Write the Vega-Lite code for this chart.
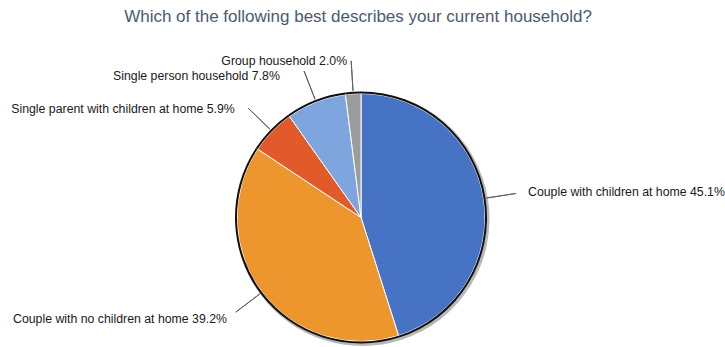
{
  "$schema": "https://vega.github.io/schema/vega-lite/v6.json",
  "width": 722,
  "height": 260,
  "autosize": "none",
  "padding": {"left": 0, "top": 87.5, "right": 3, "bottom": 0},
  "background": "white",
  "title": {
    "text": "Which of the following best describes your current household?",
    "font": "Liberation Sans",
    "fontSize": 17,
    "fontWeight": "normal",
    "color": "#4B5A6F",
    "anchor": "middle",
    "dx": -3,
    "offset": 17
  },
  "data": {
    "values": [
      {"category": "Couple with children at home", "value": 45.1, "order": 1, "label": "Couple with children at home 45.1%"},
      {"category": "Couple with no children at home", "value": 39.2, "order": 2, "label": "Couple with no children at home 39.2%"},
      {"category": "Single parent with children at home", "value": 5.9, "order": 3, "label": "Single parent with children at home 5.9%"},
      {"category": "Single person household", "value": 7.8, "order": 4, "label": "Single person household 7.8%"},
      {"category": "Group household", "value": 2.0, "order": 5, "label": "Group household 2.0%"}
    ]
  },
  "encoding": {
    "theta": {"field": "value", "type": "quantitative", "stack": true},
    "order": {"field": "order", "type": "quantitative"}
  },
  "layer": [
    {
      "mark": {"type": "arc", "outerRadius": 127, "innerRadius": 0, "fill": "#9a9a9a", "xOffset": 1.5, "yOffset": 1.5, "opacity": 0.7}
    },
    {
      "mark": {"type": "arc", "outerRadius": 124, "stroke": "white", "strokeWidth": 1},
      "encoding": {
        "color": {
          "field": "category",
          "type": "nominal",
          "scale": {
            "domain": ["Couple with children at home", "Couple with no children at home", "Single parent with children at home", "Single person household", "Group household"],
            "range": ["#4673C3", "#EE962E", "#E2592A", "#7EA5DD", "#9C9C9C"]
          },
          "legend": null
        }
      }
    },
    {
      "mark": {"type": "arc", "outerRadius": 126, "innerRadius": 124, "fill": "#111111"}
    },
    {
      "mark": {"type": "arc", "outerRadius": 157, "innerRadius": 127, "padAngle": 3, "fill": "transparent", "stroke": "#606060", "strokeWidth": 1}
    },
    {
      "mark": {"type": "text", "radius": 169, "align": "left", "baseline": "middle", "font": "Liberation Sans", "fontSize": 12.3, "color": "#1a1a1a"},
      "encoding": {"text": {"condition": {"test": "datum.category === 'Couple with children at home'", "field": "label"}, "value": ""}}
    },
    {
      "mark": {"type": "text", "radius": 168, "align": "right", "baseline": "middle", "font": "Liberation Sans", "fontSize": 12.3, "color": "#1a1a1a"},
      "encoding": {"text": {"condition": {"test": "datum.category === 'Couple with no children at home'", "field": "label"}, "value": ""}}
    },
    {
      "mark": {"type": "text", "radius": 166, "dx": -7, "dy": 7.5, "align": "right", "baseline": "middle", "font": "Liberation Sans", "fontSize": 12.3, "color": "#1a1a1a"},
      "encoding": {"text": {"condition": {"test": "datum.category === 'Single parent with children at home'", "field": "label"}, "value": ""}}
    },
    {
      "mark": {"type": "text", "radius": 155, "dx": -25, "dy": 2.5, "align": "right", "baseline": "middle", "font": "Liberation Sans", "fontSize": 12.3, "color": "#1a1a1a"},
      "encoding": {"text": {"condition": {"test": "datum.category === 'Single person household'", "field": "label"}, "value": ""}}
    },
    {
      "mark": {"type": "text", "radius": 157, "dx": -4, "align": "right", "baseline": "middle", "font": "Liberation Sans", "fontSize": 12.3, "color": "#1a1a1a"},
      "encoding": {"text": {"condition": {"test": "datum.category === 'Group household'", "field": "label"}, "value": ""}}
    }
  ],
  "config": {"view": {"stroke": null}}
}
